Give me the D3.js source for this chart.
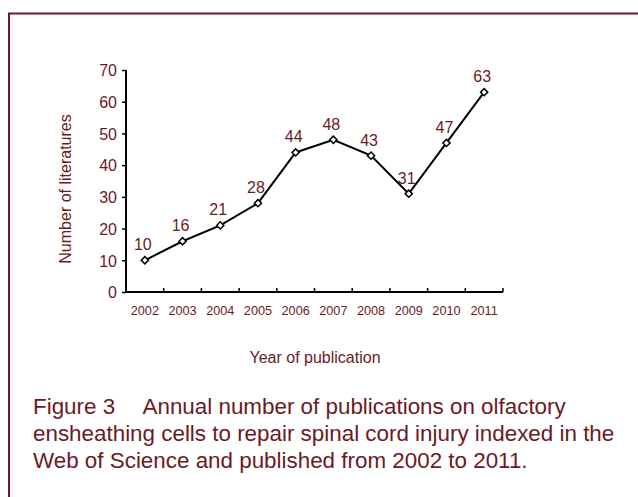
<!DOCTYPE html>
<html><head><meta charset="utf-8">
<script src="https://cdn.jsdelivr.net/npm/d3@7"></script>
<style>body{margin:0;background:#fff}svg{display:block;font-family:"Liberation Sans",Arial,sans-serif}</style>
</head><body><svg id="c" width="638" height="497"></svg>
<script>
const years = ["2002","2003","2004","2005","2006","2007","2008","2009","2010","2011"];
const counts = [10,16,21,28,44,48,43,31,47,63];
const yTicks = [0,10,20,30,40,50,60,70];
const yTitle = "Number of literatures";
const xTitle = "Year of publication";
const captionLines = ["Figure 3\u2003 Annual number of publications on olfactory","ensheathing cells to repair spinal cord injury indexed in the","Web of Science and published from 2002 to 2011."];

const maroon = "#6b1a24";
const svg = d3.select("#c");
// border
svg.append("path").attr("d","M9,497 V13.5 H638").attr("fill","none").attr("stroke",maroon).attr("stroke-width",2);

const x = d3.scaleBand().domain(years).range([126,503]);
const y = d3.scaleLinear().domain([0,70]).range([292,70]);

const gy = svg.append("g").attr("transform","translate(126,0)")
  .call(d3.axisLeft(y).tickValues(yTicks).tickSize(4).tickPadding(5));
gy.attr("font-size",null).attr("font-family",null);
gy.select(".domain").attr("stroke","#000").attr("stroke-width",2).attr("d","M0,70V292");
gy.selectAll(".tick line").attr("stroke","#000").attr("stroke-width",1.5);
gy.selectAll("text").attr("fill",maroon).style("font-size","16px").attr("dy","0.36em");

const gx = svg.append("g").attr("transform","translate(0,292)");
gx.append("line").attr("x1",126).attr("x2",503).attr("stroke","#000").attr("stroke-width",2);
gx.selectAll("line.t").data(years).enter().append("line").attr("class","t")
  .attr("x1",d=>x(d)+x.bandwidth()).attr("x2",d=>x(d)+x.bandwidth())
  .attr("y1",0).attr("y2",-4).attr("stroke","#000").attr("stroke-width",1.5);
gx.selectAll("text").data(years).enter().append("text")
  .attr("x",d=>x(d)+x.bandwidth()/2).attr("y",23).attr("text-anchor","middle")
  .attr("fill",maroon).style("font-size","12.7px").text(d=>d);

const cx = d=>x(d)+x.bandwidth()/2;
const line = d3.line().x((d,i)=>cx(years[i])).y(d=>y(d));
svg.append("path").attr("d",line(counts)).attr("fill","none").attr("stroke","#000").attr("stroke-width",2);
svg.selectAll("path.m").data(counts).enter().append("path").attr("class","m")
  .attr("d",d3.symbol(d3.symbolSquare,26)())
  .attr("transform",(d,i)=>`translate(${cx(years[i])},${y(d)}) rotate(45)`)
  .attr("fill","#fff").attr("stroke","#000").attr("stroke-width",1.5);
svg.selectAll("text.v").data(counts).enter().append("text").attr("class","v")
  .attr("x",(d,i)=>cx(years[i])-2).attr("y",d=>y(d)-10).attr("text-anchor","middle")
  .attr("fill",maroon).style("font-size","16px").text(d=>d);

svg.append("text").attr("transform","translate(71,189) rotate(-90)").attr("text-anchor","middle")
  .attr("fill",maroon).style("font-size","16px").text(yTitle);
svg.append("text").attr("x",315).attr("y",363).attr("text-anchor","middle")
  .attr("fill",maroon).style("font-size","16px").text(xTitle);
svg.selectAll("text.cap").data(captionLines).enter().append("text").attr("class","cap")
  .attr("x",33).attr("y",(d,i)=>414+i*27).attr("fill",maroon).style("font-size","22.4px")
  .attr("xml:space","preserve").text(d=>d);
</script></body></html>
